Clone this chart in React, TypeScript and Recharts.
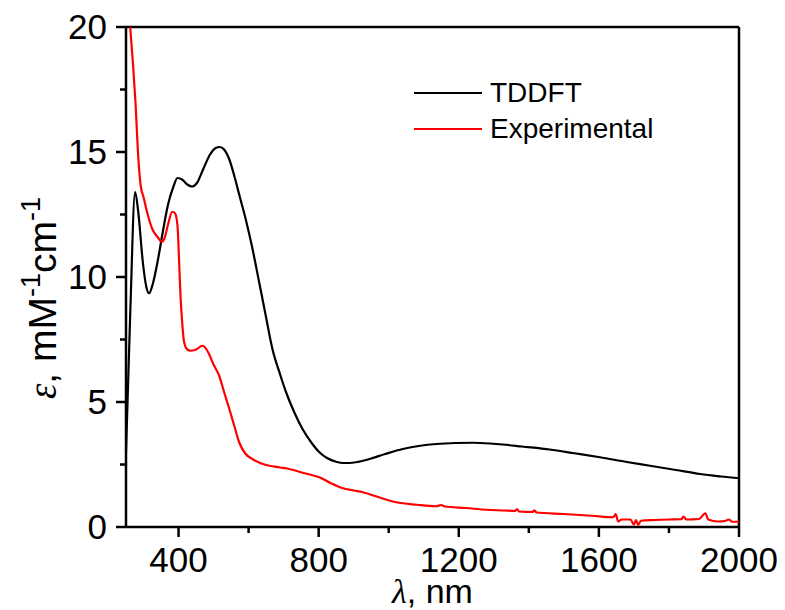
import { LineChart, Line, XAxis, YAxis, ReferenceLine, Legend, Label } from "recharts";

// TDDFT spectrum (nm, mM^-1 cm^-1)
const tddftWavelength = [
  250, 262, 276, 285, 298, 308, 316, 326, 340, 355, 370, 385, 397, 410, 425, 438, 452, 470, 490, 505,
  518, 530, 545, 560, 575, 592, 610, 630, 649, 668, 690, 707, 730, 754, 778, 802, 825, 850, 870, 888,
  910, 945, 990, 1040, 1090, 1136, 1190, 1240, 1290, 1326, 1380, 1460, 1530, 1603, 1680, 1746, 1820,
  1889, 1950, 2000,
];
const tddftEpsilon = [
  3.0, 8.5, 13.4, 12.6, 10.6, 9.6, 9.35, 9.7, 10.6, 11.8, 12.9, 13.6, 13.96, 13.9, 13.7, 13.62, 13.75,
  14.3, 14.9, 15.15, 15.2, 15.1, 14.7, 14.0, 13.2, 12.3, 11.2, 9.8, 8.45, 7.12, 6.1, 5.39, 4.6, 3.92,
  3.4, 2.99, 2.75, 2.61, 2.56, 2.56, 2.6, 2.72, 2.92, 3.12, 3.25, 3.32, 3.36, 3.37, 3.34, 3.3, 3.22,
  3.1, 2.95, 2.79, 2.6, 2.45, 2.28, 2.12, 2.02, 1.95,
];

// Experimental spectrum
const expWavelength = [
  262, 270, 277, 285, 292, 300, 312, 325, 340, 352, 360, 370, 382, 390, 397, 402, 406, 409, 416, 425,
  435, 450, 468, 480, 487, 500, 516, 530, 545, 560, 573, 590, 611, 635, 659, 690, 716, 760, 802, 835,
  869, 900, 926, 970, 1021, 1080, 1136, 1150, 1160, 1220, 1279, 1330, 1361, 1366, 1372, 1411, 1416,
  1422, 1500, 1580, 1641, 1648, 1655, 1665, 1690, 1700, 1706, 1712, 1720, 1760, 1800, 1836, 1841,
  1850, 1886, 1904, 1912, 1940, 1960, 1972, 1980, 2000,
];
const expEpsilon = [
  20.0, 18.5, 17.0, 14.8, 13.65, 13.2, 12.5, 11.92, 11.6, 11.41, 11.55, 12.1, 12.61, 12.55, 12.05,
  10.5, 9.12, 8.45, 7.39, 7.1, 7.05, 7.1, 7.25, 7.1, 6.92, 6.5, 6.05, 5.4, 4.72, 4.0, 3.39, 2.95, 2.72,
  2.55, 2.45, 2.38, 2.32, 2.15, 1.99, 1.75, 1.55, 1.46, 1.39, 1.2, 0.99, 0.89, 0.83, 0.88, 0.82, 0.76,
  0.69, 0.66, 0.64, 0.72, 0.62, 0.6, 0.67, 0.58, 0.52, 0.45, 0.39, 0.52, 0.22, 0.3, 0.3, 0.1, 0.28,
  0.08, 0.25, 0.28, 0.3, 0.31, 0.42, 0.3, 0.32, 0.55, 0.3, 0.22, 0.24, 0.3, 0.21, 0.21,
];

const seriesNames = ["TDDFT", "Experimental"];
const xMajorTicks = [400, 800, 1200, 1600, 2000];
const xMinorTicks = [600, 1000, 1400, 1800];
const yMajorTicks = [0, 5, 10, 15, 20];
const yMinorTicks = [2.5, 7.5, 12.5, 17.5];

const tddftData = tddftWavelength.map((w, i) => ({ wl: w, eps: tddftEpsilon[i] }));
const expData = expWavelength.map((w, i) => ({ wl: w, eps: expEpsilon[i] }));

const FONT = "'Liberation Sans', Arial, sans-serif";
const SERIF = "'Liberation Serif', 'Times New Roman', serif";

const XTick = (props: any) => {
  const { x, y, payload } = props;
  const major = xMajorTicks.includes(payload.value);
  return (
    <g>
      <line x1={x} x2={x} y1={y} y2={y + (major ? 10 : 6)} stroke="#000" strokeWidth={2.5} />
      {major && (
        <text x={x} y={y + 45} textAnchor="middle" fontSize={35} fontFamily={FONT} fill="#000">
          {payload.value}
        </text>
      )}
    </g>
  );
};

const YTick = (props: any) => {
  const { x, y, payload } = props;
  const major = yMajorTicks.includes(payload.value);
  return (
    <g>
      <line x1={x} x2={x - (major ? 10 : 6)} y1={y} y2={y} stroke="#000" strokeWidth={2.5} />
      {major && (
        <text x={x - 19} y={y + 12} textAnchor="end" fontSize={35} fontFamily={FONT} fill="#000">
          {payload.value}
        </text>
      )}
    </g>
  );
};

const renderYLabel = () => (
  <text transform="translate(56,298) rotate(-90)" textAnchor="middle" fontSize={39} fontFamily={FONT} fill="#000">
    <tspan fontFamily={SERIF} fontStyle="italic">ε</tspan>
    <tspan>, mM</tspan>
    <tspan fontSize={27} dy={-16}>-1</tspan>
    <tspan dy={16}>cm</tspan>
    <tspan fontSize={27} dy={-16}>-1</tspan>
  </text>
);

const renderXLabel = () => (
  <text x={432.5} y={603} textAnchor="middle" fontSize={34} fontFamily={FONT} fill="#000">
    <tspan fontFamily={SERIF} fontStyle="italic">λ</tspan>
    <tspan>, nm</tspan>
  </text>
);

const renderLegend = (props: any) => {
  const items = [...(props.payload || [])].sort(
    (a: any, b: any) => seriesNames.indexOf(a.value) - seriesNames.indexOf(b.value)
  );
  return (
    <div style={{ fontFamily: FONT, fontSize: 28, color: "#000" }}>
      {items.map((entry: any) => (
        <div key={entry.value} style={{ display: "flex", alignItems: "center", height: 36 }}>
          <svg width={68} height={4}>
            <line x1={0} x2={68} y1={2} y2={2} stroke={entry.color} strokeWidth={2} />
          </svg>
          <span style={{ marginLeft: 8, lineHeight: "36px" }}>{entry.value}</span>
        </div>
      ))}
    </div>
  );
};

export default function App() {
  return (
    <div style={{ position: "absolute", left: 0, top: 0, background: "#fff" }}>
      <LineChart width={785} height={610} margin={{ top: 27, right: 46, bottom: 0, left: 0 }}>
        <XAxis
          dataKey="wl"
          type="number"
          domain={[250, 2000]}
          allowDataOverflow
          ticks={[...xMajorTicks, ...xMinorTicks].sort((a, b) => a - b)}
          tick={<XTick />}
          tickLine={false}
          tickSize={0}
          tickMargin={0}
          axisLine={{ stroke: "#000", strokeWidth: 2.5 }}
          height={83}
          interval={0}
        >
          <Label content={renderXLabel} />
        </XAxis>
        <YAxis
          type="number"
          domain={[0, 20]}
          allowDataOverflow
          ticks={[...yMajorTicks, ...yMinorTicks].sort((a, b) => a - b)}
          tick={<YTick />}
          tickLine={false}
          tickSize={0}
          tickMargin={0}
          axisLine={{ stroke: "#000", strokeWidth: 2.5 }}
          width={126}
          interval={0}
        >
          <Label content={renderYLabel} />
        </YAxis>
        <ReferenceLine y={20} stroke="#000" strokeWidth={2.5} />
        <ReferenceLine x={2000} stroke="#000" strokeWidth={2.5} />
        <Legend
          content={renderLegend}
          layout="vertical"
          verticalAlign="middle"
          align="center"
          wrapperStyle={{ position: "absolute", left: 414, top: 75, width: "auto", height: "auto" }}
        />
        <Line
          data={tddftData}
          dataKey="eps"
          name="TDDFT"
          type="monotone"
          stroke="#000"
          strokeWidth={2.2}
          dot={false}
          activeDot={false}
          isAnimationActive={false}
        />
        <Line
          data={expData}
          dataKey="eps"
          name="Experimental"
          type="monotone"
          stroke="#ff0000"
          strokeWidth={2.2}
          dot={false}
          activeDot={false}
          isAnimationActive={false}
        />
      </LineChart>
    </div>
  );
}
